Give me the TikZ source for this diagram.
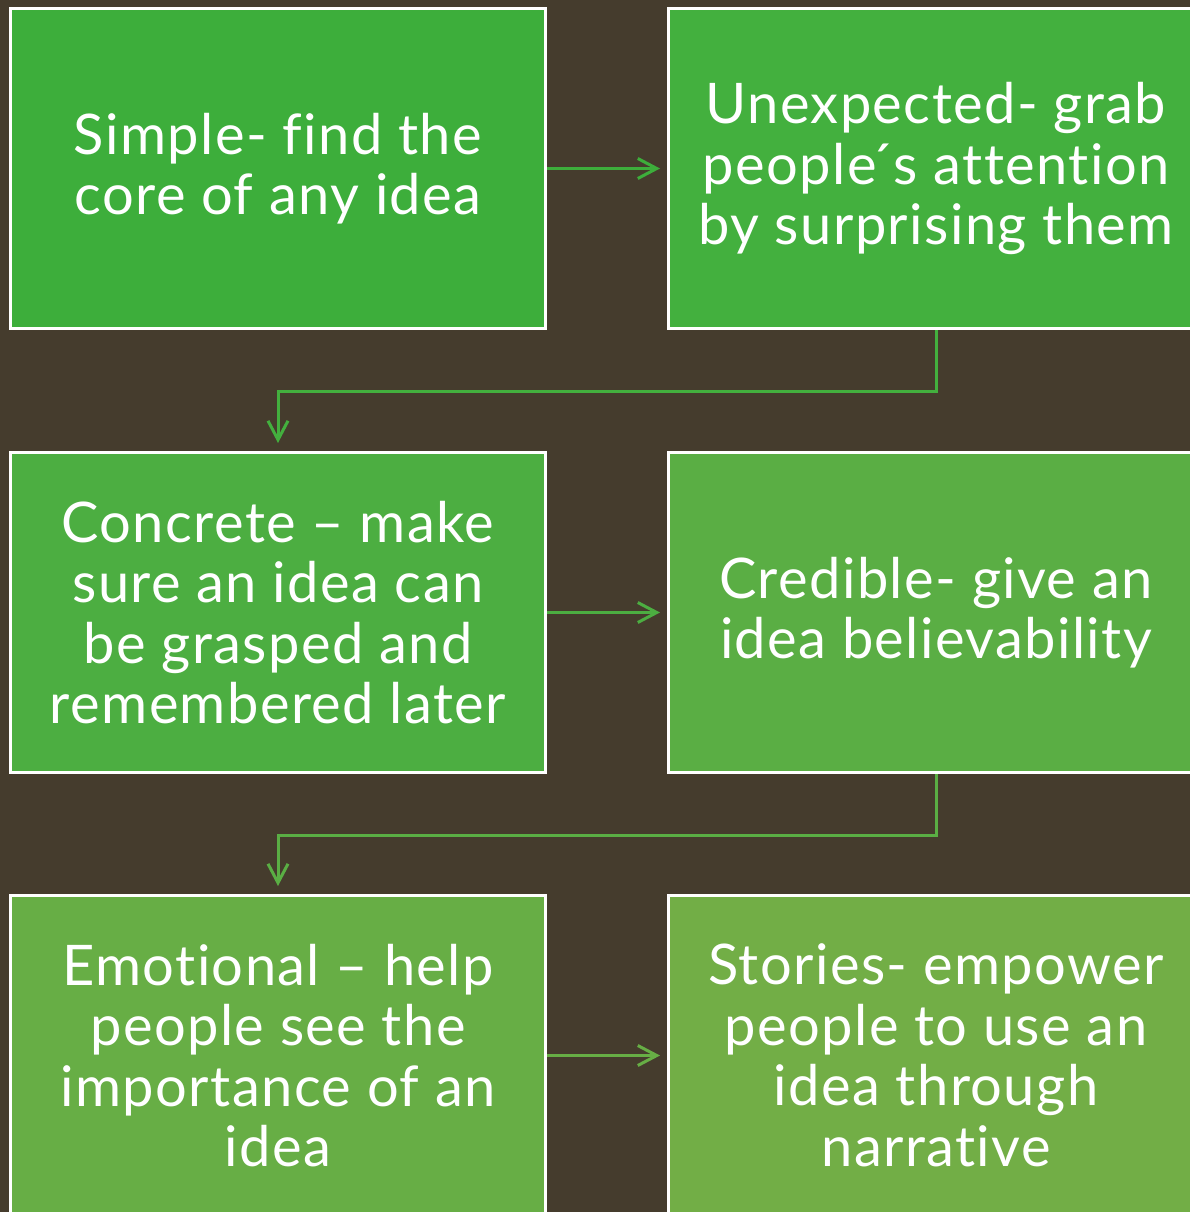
\documentclass[tikz,border=0pt]{standalone}
\usepackage{fontspec}
\setmainfont{Lato}[LetterSpace=2.5, Ligatures=CommonOff]
\usetikzlibrary{arrows.meta}
\definecolor{bgbrown}{RGB}{69,60,45}
\definecolor{greenA}{RGB}{61,174,59}
\definecolor{greenB}{RGB}{67,176,62}
\definecolor{greenC}{RGB}{76,174,65}
\definecolor{greenD}{RGB}{90,174,68}
\definecolor{greenE}{RGB}{103,174,69}
\definecolor{greenF}{RGB}{114,174,70}
\tikzset{
	idea/.style={draw=white, line width=3pt, anchor=north west, minimum width=535pt,
		minimum height=320pt, inner sep=0pt, text=white, align=center,
		font=\fontsize{56}{60.5}\selectfont},
	flow/.style={line width=3pt, -{Straight Barb[length=19pt,width=20pt,line width=3pt]}}
}
\begin{document}
\begin{tikzpicture}[x=1pt,y=-1pt]
			\useasboundingbox (0,0) rectangle (1190,1212);
			\fill[bgbrown] (0,0) rectangle (1190,1212);
			% three rows of two boxes
			\node[idea, fill=greenA] (simple) at (9,7) {Simple- find the\\core of any idea};
			\node[idea, fill=greenB] (unexpected) at (667,7) {Unexpected- grab\\people\'{}s attention\\by surprising them};
			\node[idea, fill=greenC] (concrete) at (9,451) {Concrete -- make\\sure an idea can\\be grasped and\\remembered later};
			\node[idea, fill=greenD] (credible) at (667,451) {Credible- give an\\idea believability};
			\node[idea, fill=greenE] (emotional) at (9,894) {Emotional -- help\\people see the\\importance of an\\idea};
			\node[idea, fill=greenF] (stories) at (667,894) {Stories- empower\\people to use an\\idea through\\narrative};
			
			\draw[flow, greenA, shorten >=7pt] (simple) -- (unexpected);
			\draw[flow, greenB, shorten >=8pt] (unexpected.south) -- ++(0,61) -| (concrete.north);
			\draw[flow, greenC, shorten >=7pt] (concrete) -- (credible);
			\draw[flow, greenD, shorten >=8pt] (credible.south) -- ++(0,61) -| (emotional.north);
			\draw[flow, greenE, shorten >=7pt] (emotional) -- (stories);
			\end{tikzpicture}
\end{document}
